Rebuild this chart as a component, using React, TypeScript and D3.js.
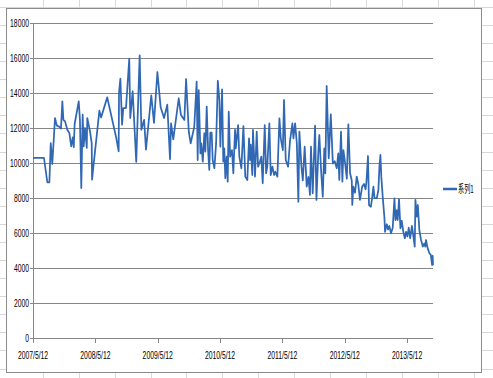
import React from "react";
import * as d3 from "d3";

const START_DATE = "2007-05-12";
const seriesName = "系列1";

const dayOffsets = [
  0, 64, 84, 96, 104, 113, 129, 139, 158, 164,
  172, 178, 188, 201, 213, 224, 233, 239, 244, 268,
  275, 283, 291, 297, 305, 315, 318, 334, 344, 346,
  353, 389, 399, 435, 488, 502, 504, 512, 522, 529,
  545, 564, 570, 584, 605, 625, 635, 651, 662, 693,
  709, 729, 748, 768, 787, 803, 809, 822, 854, 867,
  887, 897, 904, 913, 924, 945, 959, 965, 971, 981,
  986, 995, 1004, 1010, 1018, 1026, 1033, 1039, 1047, 1053,
  1063, 1073, 1083, 1092, 1098, 1108, 1115, 1121, 1127, 1135,
  1141, 1147, 1155, 1166, 1174, 1184, 1188, 1202, 1209, 1221,
  1233, 1244, 1256, 1266, 1272, 1276, 1285, 1289, 1301, 1311,
  1319, 1330, 1338, 1346, 1358, 1366, 1373, 1385, 1393, 1403,
  1413, 1420, 1432, 1444, 1452, 1464, 1471, 1481, 1495, 1506,
  1520, 1526, 1536, 1546, 1555, 1561, 1573, 1581, 1592, 1604,
  1614, 1623, 1629, 1639, 1653, 1661, 1672, 1678, 1688, 1698,
  1707, 1713, 1721, 1733, 1745, 1757, 1768, 1780, 1789, 1795,
  1805, 1813, 1819, 1829, 1839, 1848, 1858, 1868, 1871, 1877,
  1887, 1897, 1906, 1916, 1929, 1940, 1949, 1954, 1963, 1969,
  1980, 1987, 1995, 2001, 2015, 2024, 2030, 2036, 2041, 2050,
  2059, 2063, 2073, 2081, 2088, 2098, 2108, 2118, 2124, 2131,
  2137, 2145, 2153, 2161, 2170, 2179, 2186, 2194, 2202, 2210,
  2221, 2237, 2241, 2249, 2255, 2264, 2274, 2284, 2293, 2299,
  2303, 2313, 2323, 2331, 2339, 2342, 2344,
];

const values = [
  10300, 10300, 8900, 8900, 11140, 9940, 12570, 12150, 12040, 11960,
  13520, 12470, 12380, 11900, 11710, 10950, 11470, 10900, 12230, 13520,
  12470, 8570, 12760, 10950, 12000, 10860, 12570, 11810, 11140, 9050,
  9710, 12990, 12600, 13750, 11430, 10670, 14000, 14820, 12190, 13140,
  13140, 15960, 12570, 14100, 10060, 16150, 11900, 12470, 10760, 13870,
  12290, 15200, 13180, 12570, 13330, 10210, 12270, 11350, 13700, 12740,
  12460, 14800, 13500, 11790, 11120, 12070, 14650, 10170, 14170, 10550,
  11120, 10080, 11700, 10650, 13220, 10740, 9600, 11730, 11730, 10170,
  9700, 11120, 14700, 13600, 10930, 14210, 10080, 10840, 9130, 10360,
  8930, 12930, 10360, 10740, 9410, 11900, 10840, 12170, 10360, 9700,
  12110, 9220, 9030, 11410, 10170, 11050, 9310, 11890, 9220, 11790,
  9790, 10080, 10360, 8840, 12170, 9410, 9790, 12270, 9310, 9790,
  9310, 9500, 9220, 12550, 11410, 10740, 13600, 10170, 9790, 11260,
  12270, 11410, 12270, 11120, 7790, 11790, 9790, 9000, 10930, 8650,
  9200, 8170, 10930, 8270, 12130, 7890, 10650, 11600, 9600, 8070,
  10840, 9410, 14400, 10270, 12780, 9980, 10100, 9700, 10550, 9030,
  11790, 8930, 10740, 9980, 9100, 12210, 9410, 9000, 7600, 8650,
  8300, 9220, 8800, 7890, 8650, 8800, 8500, 8930, 10400, 7600,
  7500, 7980, 8650, 8000, 8000, 8460, 9790, 10460, 9220, 7980,
  6930, 6070, 6500, 6200, 6400, 5980, 6300, 7980, 6740, 7300,
  6740, 7920, 6270, 6700, 6070, 5700, 6070, 5800, 6300, 5700,
  6400, 5220, 7890, 6930, 7600, 6170, 5600, 5220, 5400, 5220,
  5600, 5120, 4840, 4750, 4170, 4700, 4150,
];

const yTicks = [0, 2000, 4000, 6000, 8000, 10000, 12000, 14000, 16000, 18000];
const xTickYears = [0, 1, 2, 3, 4, 5, 6];

const W = 493;
const H = 378;
const FONT = "'Liberation Sans', Arial, sans-serif";
const LINE_COLOR = "#3068b4";
const GRID = "#868686";
const SX = 0.68;

export default function App() {
  const start = d3.timeParse("%Y-%m-%d")(START_DATE) as Date;
  const data = dayOffsets.map((o, i) => ({
    date: d3.timeDay.offset(start, o),
    value: values[i],
  }));
  const x = d3
    .scaleTime()
    .domain(d3.extent(data, (d) => d.date) as [Date, Date])
    .range([33, 433]);
  const y = d3.scaleLinear().domain([0, 18000]).range([338, 23]);
  const line = d3
    .line<{ date: Date; value: number }>()
    .x((d) => x(d.date))
    .y((d) => y(d.value));

  const fmt = (d: Date) => `${d.getFullYear()}/${d.getMonth() + 1}/${d.getDate()}`;
  const xTicks = xTickYears.map((k) => d3.timeYear.offset(start, k));

  // spreadsheet cell grid behind the chart
  const cols = d3.range(0, 14).map((k) => 42.7 + 35.94 * k);
  const rows = d3.range(-1, 21).map((k) => 25 + 18.08 * k);

  return (
    <svg
      width={W}
      height={H}
      style={{ position: "absolute", left: 0, top: 0, background: "#fff" }}
    >
      <g stroke="#d8d8d8" strokeWidth={1}>
        {cols.map((c, i) => (
          <line key={"c" + i} x1={Math.round(c) + 0.5} x2={Math.round(c) + 0.5} y1={0} y2={H} />
        ))}
        {rows.map((r, i) => (
          <line key={"r" + i} x1={0} x2={W} y1={Math.round(r) + 0.5} y2={Math.round(r) + 0.5} />
        ))}
      </g>
      <rect x={6.5} y={8.5} width={475} height={364} fill="#fff" stroke="#8c8c8c" strokeWidth={1} />

      {/* gridlines */}
      <g stroke={GRID} strokeWidth={1}>
        {yTicks.slice(1).map((t) => (
          <line key={t} x1={33} x2={433} y1={Math.round(y(t)) + 0.5} y2={Math.round(y(t)) + 0.5} />
        ))}
        <line x1={33.5} x2={33.5} y1={Math.round(y(18000))} y2={338} />
        <line x1={33} x2={433} y1={338.5} y2={338.5} />
        {yTicks.map((t) => (
          <line key={"yt" + t} x1={30} x2={33} y1={Math.round(y(t)) + 0.5} y2={Math.round(y(t)) + 0.5} />
        ))}
        {xTicks.map((t, i) => (
          <line key={"xt" + i} x1={Math.round(x(t)) + 0.5} x2={Math.round(x(t)) + 0.5} y1={338} y2={343} />
        ))}
      </g>

      {/* y labels */}
      {yTicks.map((t) => (
        <text
          key={"yl" + t}
          transform={`translate(29,${y(t) + 3.6}) scale(${SX},1)`}
          textAnchor="end"
          fontFamily={FONT}
          fontSize={10}
          fill="#000"
        >
          {t}
        </text>
      ))}

      {/* x labels */}
      {xTicks.map((t, i) => (
        <text
          key={"xl" + i}
          transform={`translate(${x(t)},359) scale(${SX},1)`}
          textAnchor="middle"
          fontFamily={FONT}
          fontSize={10}
          fill="#000"
        >
          {fmt(t)}
        </text>
      ))}

      <path
        d={line(data) || ""}
        fill="none"
        stroke={LINE_COLOR}
        strokeWidth={1.75}
        strokeLinejoin="round"
      />

      {/* legend */}
      <line x1={443} x2={457} y1={189} y2={189} stroke={LINE_COLOR} strokeWidth={2.5} />
      <text
        transform={`translate(458,193) scale(0.56,1)`}
        fontFamily="'Noto Sans CJK SC', sans-serif"
        fontSize={11}
        fill="#000"
      >
        {seriesName}
      </text>
    </svg>
  );
}
